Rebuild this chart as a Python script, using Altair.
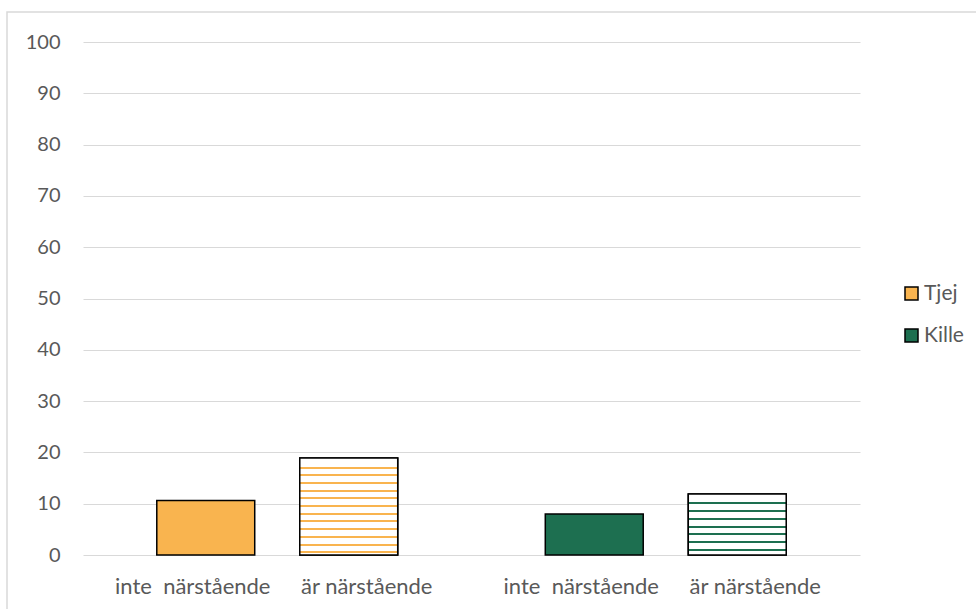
import altair as alt
import pandas as pd

# Share (%) per group and relation
groups = ["Tjej", "Tjej", "Kille", "Kille"]
relations = ["inte  närstående", "är närstående", "inte  närstående", "är närstående"]
values = [10.6, 18.9, 8.0, 11.9]

group_order = ["Tjej", "Kille"]
relation_order = ["inte  närstående", "är närstående"]
group_colors = ["#F9B44F", "#1D6F50"]
y_ticks = list(range(0, 101, 10))

W, H = 777, 513
FONT = "Lato"
TEXT_COLOR = "#595959"
GRID_COLOR = "#d9d9d9"

df = pd.DataFrame({"group": groups, "relation": relations, "value": values})
df["idx"] = range(len(df))

x_enc = alt.X("group:N", sort=group_order, axis=None,
              scale=alt.Scale(paddingInner=0, paddingOuter=0))
xoff_enc = alt.XOffset("relation:N", sort=relation_order,
                       scale=alt.Scale(paddingInner=0.315, paddingOuter=0.516))
y_enc = alt.Y("value:Q", title=None,
              scale=alt.Scale(domain=[0, 100], nice=False),
              axis=alt.Axis(values=y_ticks, ticks=False, domain=False,
                            gridColor=GRID_COLOR, gridWidth=1,
                            labelPadding=23, labelFont=FONT,
                            labelFontSize=20, labelColor=TEXT_COLOR))

base = alt.Chart(df)

bars = base.mark_bar(stroke="black", strokeWidth=1.5).encode(
    x=x_enc, xOffset=xoff_enc, y=y_enc,
    color=alt.Color("group:N", sort=group_order,
                    scale=alt.Scale(domain=group_order, range=group_colors),
                    legend=alt.Legend(title=None, orient="none",
                                      legendX=818, legendY=241,
                                      symbolType="square", symbolSize=169,
                                      symbolStrokeColor="black",
                                      symbolStrokeWidth=1.5,
                                      labelFont=FONT, labelFontSize=21,
                                      labelColor=TEXT_COLOR, rowPadding=20,
                                      labelOffset=2, padding=0)),
)


def stripe_fill(value, color, first=8.5, step=7.7, thick=2.0):
    """Horizontal hatch fill as a hard-stop vertical gradient."""
    h = value / 100 * H
    stops = [{"offset": 0, "color": "white"}]
    y = first
    while y + thick < h - 1:
        a, b = y / h, (y + thick) / h
        stops += [{"offset": a, "color": "white"}, {"offset": a, "color": color},
                  {"offset": b, "color": color}, {"offset": b, "color": "white"}]
        y += step
    stops.append({"offset": 1, "color": "white"})
    return {"gradient": "linear", "x1": 0, "y1": 0, "x2": 0, "y2": 1, "stops": stops}


hatched = []
for i, (g, r, v) in enumerate(zip(groups, relations, values)):
    if r.startswith("är"):
        col = group_colors[group_order.index(g)]
        hatched.append(
            base.transform_filter(alt.datum.idx == i)
            .mark_bar(stroke="black", strokeWidth=1.5)
            .encode(x=x_enc, xOffset=xoff_enc, y=y_enc,
                    fill=alt.value(stripe_fill(v, col)))
        )

# category labels; the double space is kept visible in SVG text
label_shift = {"inte  närstående": -13, "är närstående": 18}
labels = [
    base.transform_filter(alt.datum.relation == rel)
    .transform_calculate(shown="replace(datum.relation, '  ', ' \u00a0')")
    .mark_text(font=FONT, fontSize=22, color=TEXT_COLOR, baseline="middle", dx=dx)
    .encode(x=x_enc, xOffset=xoff_enc, y=alt.value(H + 32), text="shown:N")
    for rel, dx in label_shift.items()
]

frame = alt.Chart(alt.Data(values=[{}])).mark_rect(
    fill="transparent", stroke=GRID_COLOR, strokeWidth=1.5
).encode(x=alt.value(-76), x2=alt.value(W + 130), y=alt.value(-30), y2=alt.value(H + 80))

chart = alt.layer(frame, bars, *hatched, *labels).properties(
    width=W, height=H,
    autosize=alt.AutoSizeParams(type="none"),
    padding={"left": 83, "top": 42, "right": 116, "bottom": 54},
    background="white",
).configure_view(stroke=None)

chart.save("out.html", embed_options={"renderer": "svg", "actions": False})
